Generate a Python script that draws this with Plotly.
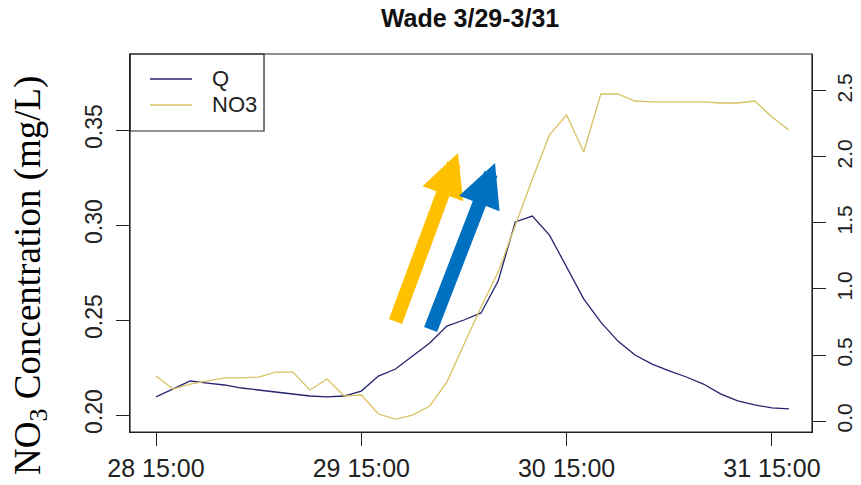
import pandas as pd
import plotly.graph_objects as go

# Two-hourly record, 28 Mar 15:00 onward
start = pd.Timestamp("2017-03-28 15:00")
times = pd.date_range(start, periods=38, freq="2h")

# Discharge (left axis)
q_vals = [0.2095, 0.2137, 0.2179, 0.2168, 0.2158, 0.2142, 0.2132, 0.2121,
          0.2111, 0.2100, 0.2095, 0.2100, 0.2126, 0.2205, 0.2242, 0.2311,
          0.2379, 0.2468, 0.2500, 0.2537, 0.2705, 0.3016, 0.3047, 0.2947,
          0.2779, 0.2611, 0.2489, 0.2389, 0.2316, 0.2268, 0.2232, 0.2200,
          0.2163, 0.2111, 0.2074, 0.2053, 0.2037, 0.2032]

# Nitrate (right axis)
no3_vals = [0.341, 0.242, 0.280, 0.303, 0.326, 0.326, 0.333, 0.371,
            0.371, 0.235, 0.318, 0.189, 0.197, 0.053, 0.015, 0.045,
            0.114, 0.295, 0.576, 0.864, 1.129, 1.485, 1.833, 2.167,
            2.318, 2.038, 2.477, 2.477, 2.424, 2.417, 2.417, 2.417,
            2.417, 2.409, 2.409, 2.424, 2.303, 2.205]

x_tick_vals = [start + pd.Timedelta(days=d) for d in range(4)]
x_tick_text = ["28 15:00", "29 15:00", "30 15:00", "31 15:00"]
left_ticks = [0.20, 0.25, 0.30, 0.35]
right_ticks = [0.0, 0.5, 1.0, 1.5, 2.0, 2.5]

Q_COLOR = "#24246e"
NO3_COLOR = "#d8c262"
SANS = "Liberation Sans, Arial, sans-serif"
INK = "#222222"

fig = go.Figure()
fig.add_trace(go.Scatter(x=times, y=q_vals, mode="lines", name="Q",
                         line=dict(color=Q_COLOR, width=1.3), yaxis="y"))
fig.add_trace(go.Scatter(x=times, y=no3_vals, mode="lines", name="NO3",
                         line=dict(color=NO3_COLOR, width=1.3), yaxis="y2"))

# Rising-limb arrows (tail -> head, in date / left-axis units)
arrows = [
    ("#FFC000", "2017-03-29 18:56", 0.2484, "2017-03-30 02:18", 0.3379),
    ("#0070C0", "2017-03-29 23:02", 0.2442, "2017-03-30 06:38", 0.3326),
]
for color, tx, ty, hx, hy in arrows:
    fig.add_annotation(x=hx, y=hy, ax=tx, ay=ty, xref="x", yref="y",
                       axref="x", ayref="y", text="", showarrow=True,
                       arrowhead=2, arrowwidth=14, arrowsize=0.62,
                       arrowcolor=color, standoff=0, startstandoff=0)

# Legend box in the top-left corner
fig.add_shape(type="rect", xref="paper", yref="paper", x0=0, x1=0.1965,
              y0=0.7963, y1=1, line=dict(color=INK, width=1.2),
              fillcolor="white")
for label, color, yy in [("Q", Q_COLOR, 0.9339), ("NO3", NO3_COLOR, 0.8651)]:
    fig.add_shape(type="line", xref="paper", yref="paper", x0=0.0293,
                  x1=0.0909, y0=yy, y1=yy, line=dict(color=color, width=1.5))
    fig.add_annotation(x=0.1173, y=yy, xref="paper", yref="paper", text=label,
                       showarrow=False, xanchor="left", yanchor="middle",
                       font=dict(family=SANS, size=22, color=INK))

# Left axis title
fig.add_annotation(x=-0.147, y=0.415, xref="paper", yref="paper",
                   text="NO<sub>3</sub> Concentration (mg/L)", textangle=-90,
                   showarrow=False, xanchor="center", yanchor="middle",
                   font=dict(family="Liberation Serif, Times New Roman, serif",
                             size=37, color="#000000"))

axis_common = dict(showgrid=False, zeroline=False, showline=True,
                   linecolor=INK, linewidth=1.2, ticks="outside",
                   ticklen=13, tickwidth=1.2, tickcolor=INK,
                   mirror=False, automargin=False)

x_lo = start + pd.Timedelta(hours=-3.04)
x_hi = start + pd.Timedelta(hours=76.69)

fig.update_layout(
    width=861, height=485,
    margin=dict(l=130, r=49, t=54, b=53),
    paper_bgcolor="white", plot_bgcolor="white",
    showlegend=False,
    title=dict(text="Wade 3/29-3/31", x=0.546, xanchor="center",
               y=1 - 18 / 485, yanchor="middle",
               font=dict(family=SANS, size=25, color="#111111",
                         weight="bold")),
    xaxis=dict(type="date", range=[x_lo, x_hi], tickvals=x_tick_vals,
               ticktext=x_tick_text, ticklabelstandoff=1,
               tickfont=dict(family=SANS, size=25, color=INK), **axis_common),
    yaxis=dict(range=[0.19105, 0.39], tickvals=left_ticks, tickformat=".2f",
               tickangle=-90, ticklabelstandoff=5,
               tickfont=dict(family=SANS, size=23, color=INK), **axis_common),
    yaxis2=dict(range=[-0.0833, 2.780], tickvals=right_ticks, tickformat=".1f",
                tickangle=-90, overlaying="y", side="right",
                ticklabelstandoff=1,
                tickfont=dict(family=SANS, size=21, color=INK), **axis_common),
)

# Closed frame around the plotting region
fig.add_shape(type="rect", xref="paper", yref="paper", x0=0, x1=1, y0=0, y1=1,
              line=dict(color=INK, width=1.2), layer="above")

fig.write_html("out.html")
